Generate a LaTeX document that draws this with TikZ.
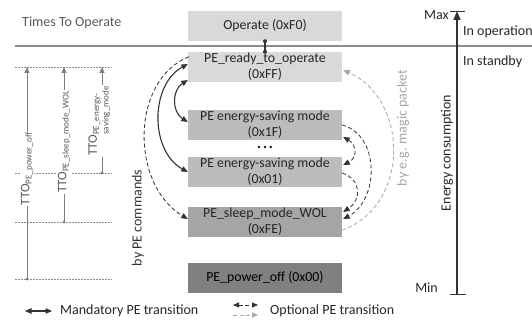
\documentclass[tikz,border=0pt]{standalone}
\usepackage{fontspec}
\setmainfont{Carlito}
\usetikzlibrary{arrows.meta,calc}

\definecolor{txt}{HTML}{262626}
\definecolor{soft}{HTML}{595959}
\definecolor{guide}{HTML}{8C8C8C}
\definecolor{ttoline}{HTML}{7F7F7F}
\definecolor{dark}{HTML}{333333}
\definecolor{light}{HTML}{A6A6A6}
\definecolor{boxA}{HTML}{D9D9D9}
\definecolor{boxB}{HTML}{BCBCBC}
\definecolor{boxC}{HTML}{A5A5A5}
\definecolor{boxD}{HTML}{808080}

\newcommand{\ttosub}[1]{\raisebox{-2.4pt}{\fontsize{9}{9.5}\selectfont #1}}

\begin{document}
\begin{tikzpicture}[x=1pt,y=-1pt,
  font=\fontsize{14}{16}\selectfont,
  state/.style={minimum width=154pt,minimum height=30pt,inner sep=0pt,
    align=center,text=txt,font=\fontsize{13.8}{16}\selectfont},
  plain/.style={inner sep=0pt,text=txt},
  mand/.style={draw=dark,line width=1.1pt,{Triangle[length=6.5pt,width=5.5pt]}-{Triangle[length=6.5pt,width=5.5pt]}},
  opt/.style={draw=dark,line width=0.8pt,dash pattern=on 4pt off 2.5pt},
  optgray/.style={draw=light,line width=0.8pt,dash pattern=on 4pt off 2.5pt},
  guideline/.style={draw=guide,line width=0.8pt,dash pattern=on 2pt off 1pt},
  ttoarrow/.style={draw=ttoline,line width=0.8pt,-{Triangle[length=6pt,width=5pt]}},
  ttolabel/.style={rotate=90,fill=white,inner sep=1pt,text=soft,font=\fontsize{13}{13}\selectfont},
]
\useasboundingbox (0,0) rectangle (532,320);

% operating / standby separator
\coordinate (sepL) at (15,46);
\coordinate (sepR) at (532,46);
\draw[guide,line width=1.2pt] (sepL) -- (sepR);

% power states
\node[state,fill=boxA] (op)    at (265,26)  {Operate (0xF0)};
\node[state,fill=boxA] (ready) at (265,67)  {PE\_ready\_to\_operate\\(0xFF)};
\node[state,fill=boxB] (es1F)  at (265,125) {PE energy-saving mode\\(0x1F)};
\node[state,fill=boxB] (es01)  at (265,172) {PE energy-saving mode\\(0x01)};
\node[state,fill=boxC] (sleep) at (265,222) {PE\_sleep\_mode\_WOL\\(0xFE)};
\node[state,fill=boxD,text=black] (off) at (265,278) {PE\_power\_off (0x00)};
\node[plain,font=\fontsize{7}{7}\selectfont] (dots) at (265,148) {\textbullet\hspace{2.5pt}\textbullet\hspace{2.5pt}\textbullet};

% operate <-> ready link
\draw[dark,line width=1.1pt] (op.south) -- (ready.north);
\fill[dark] (op.south) circle (2pt) (ready.north) circle (2pt);

% left side transitions
\coordinate (rA) at ($(ready.west)+(0,-3)$);
\coordinate (rB) at ($(ready.west)+(0,13)$);
\coordinate (rC) at ($(ready.north west)+(1,5)$);
\coordinate (fA) at ($(es1F.west)+(0,-3)$);
\coordinate (oA) at ($(es01.west)+(0,0)$);
\coordinate (sA) at ($(sleep.west)+(0,-3)$);

\draw[mand] (rB) .. controls ($(rB)+(-16,10)$) and ($(fA)+(-16,-10)$) .. (fA);
\draw[mand] (rA) .. controls ($(rA)+(-38,21)$) and ($(oA)+(-38,-21)$) .. (oA);
\draw[opt,-{Triangle[length=6.5pt,width=5.5pt]}] (rC) .. controls ($(rC)+(-58,23)$) and ($(sA)+(-58,-35)$) .. (sA);

% right side transitions
\coordinate (rR)  at ($(ready.east)+(1,3)$);
\coordinate (sR1) at ($(sleep.south east)+(0,-7)$);
\coordinate (fR)  at ($(es1F.east)+(0,0)$);
\coordinate (fR2) at ($(es1F.east)+(1,12)$);
\coordinate (oR)  at ($(es01.east)+(0,1)$);
\coordinate (oR2) at ($(es01.east)+(1,-7)$);
\coordinate (sR2) at ($(sleep.east)+(1,-10)$);
\coordinate (sR3) at ($(sleep.east)+(1,-3)$);

\draw[optgray,-{Triangle[length=6.5pt,width=5.5pt]}] (sR1) .. controls ($(sR1)+(68,-25)$) and ($(rR)+(66,30)$) .. (rR);
\draw[opt,-{Triangle[length=6.5pt,width=5.5pt]}] (fR) .. controls ($(fR)+(38,10)$) and ($(sR3)+(36,-19)$) .. (sR3);
\draw[opt,-{Triangle[length=6.5pt,width=5.5pt]}] (oR) .. controls ($(oR)+(20,7)$) and ($(sR2)+(18,-12)$) .. (sR2);
\draw[opt,{Triangle[length=6.5pt,width=5.5pt]}-{Triangle[length=6.5pt,width=5.5pt]}] (fR2) .. controls ($(fR2)+(14,8)$) and ($(oR2)+(14,-7)$) .. (oR2);

% transition captions
\node[plain,rotate=90,text=dark] (cmd) at (138,218) {by PE commands};
\node[plain,rotate=90,text=light] (magic) at (403,128) {by e.g. magic packet};

% energy axis
\coordinate (eTop) at (457,11);
\coordinate (eBot) at (457,294);
\coordinate (tTL) at (450,11);
\coordinate (tTR) at (465,11);
\coordinate (tBL) at (450,294);
\coordinate (tBR) at (466,294);
\draw[dark,line width=1.6pt,-{Triangle[length=9pt,width=7pt]}] (eBot) -- (eTop);
\draw[dark,line width=0.9pt] (tTL) -- (tTR);
\draw[dark,line width=0.9pt] (tBL) -- (tBR);
\node[plain,anchor=east] (max) at (449,15) {Max};
\node[plain,anchor=east] (min) at (438,288) {Min};
\node[plain,anchor=west] (inop) at (463,32) {In operation};
\node[plain,anchor=west] (instb) at (463,62) {In standby};
\node[plain,rotate=90] (energy) at (447,153) {Energy consumption};

% times to operate
\node[plain,anchor=west,text=soft] (tto) at (22,23) {Times To Operate};
\coordinate (gRl) at (15,67);  \coordinate (gRr) at (112,67);
\coordinate (gEl) at (15,173); \coordinate (gEr) at (112,173);
\coordinate (gSl) at (15,222); \coordinate (gSr) at (112,222);
\coordinate (gOl) at (15,279); \coordinate (gOr) at (112,279);
\draw[guideline] (gRl) -- (gRr);
\draw[guideline] (gEl) -- (gEr);
\draw[guideline] (gSl) -- (gSr);
\draw[guideline] (gOl) -- (gOr);

\coordinate (pOff0) at (27,279);  \coordinate (pOff1) at (27,67);
\coordinate (pSl0)  at (64,222);  \coordinate (pSl1)  at (64,67);
\coordinate (pEs0)  at (102,173); \coordinate (pEs1)  at (102,67);
\draw[ttoarrow] (pOff0) -- (pOff1);
\draw[ttoarrow] (pSl0) -- (pSl1);
\draw[ttoarrow] (pEs0) -- (pEs1);
\fill[ttoline] (pOff0) circle (1.6pt) (pSl0) circle (1.6pt) (pEs0) circle (1.6pt);

\node[ttolabel] (lOff) at (27,169) {TTO\ttosub{PE\_power\_off}};
\node[ttolabel] (lSl)  at (64,142) {TTO\ttosub{PE\_sleep\_mode\_WOL}};
\node[ttolabel] (lEs)  at (100,121) {TTO\raisebox{-2.4pt}{\fontsize{9}{9.5}\selectfont\begin{tabular}[t]{@{}l@{}}PE\_energy-\\saving\_mode\end{tabular}}};

% legend
\coordinate (lgM0) at (25,311); \coordinate (lgM1) at (52,311);
\coordinate (lgO0) at (233,305); \coordinate (lgO1) at (258,305);
\coordinate (lgG0) at (233,315); \coordinate (lgG1) at (258,315);
\draw[mand] (lgM0) -- (lgM1);
\draw[opt,{Triangle[length=6pt,width=5pt]}-{Triangle[length=6pt,width=5pt]}] (lgO0) -- (lgO1);
\draw[optgray,-{Triangle[length=6pt,width=5pt]}] (lgG0) -- (lgG1);
\node[plain,anchor=west] (lgMt) at (60,311) {Mandatory PE transition};
\node[plain,anchor=west] (lgOt) at (270,311) {Optional PE transition};
\end{tikzpicture}
\end{document}
